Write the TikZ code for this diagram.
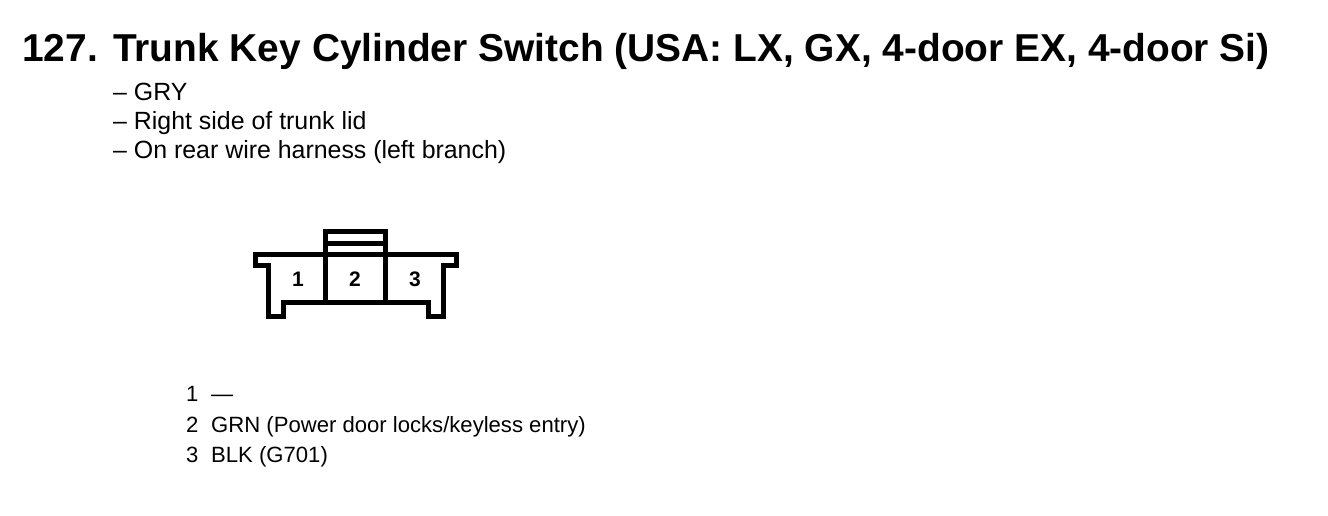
\documentclass[tikz,border=0pt]{standalone}
\usepackage{fontspec}
\setmainfont{Liberation Sans}
\tikzset{
 titletext/.style={anchor=base west,inner sep=0pt,font=\fontsize{38.9}{40}\selectfont\bfseries},
 bodytext/.style={anchor=base west,inner sep=0pt,font=\fontsize{24.9}{26}\selectfont},
 listtext/.style={anchor=base west,inner sep=0pt,font=\fontsize{22.1}{24}\selectfont},
 pintext/.style={anchor=base,inner sep=0pt,font=\fontsize{21}{22}\selectfont\bfseries},
 shell/.style={line width=5pt,miter limit=10,line join=miter}
}
\begin{document}
\begin{tikzpicture}[x=1pt,y=-1pt]
\useasboundingbox (0,0) rectangle (1328,516);
\node[titletext] (num) at (22,62) {127.};
\node[titletext] (ttl) at (113,62) {Trunk Key Cylinder Switch (USA: LX, GX, 4-door EX, 4-door Si)};
\node[bodytext] (a) at (113,101) {– GRY};
\node[bodytext] (b) at (113,130) {– Right side of trunk lid};
\node[bodytext] (c) at (113,159) {– On rear wire harness (left branch)};
\draw[shell] (255,254) -- (456,254) -- (456,265) -- (443.5,265) -- (443.5,316) -- (428,316) -- (428,302) -- (283,302) -- (283,316) -- (268,316) -- (268,265) -- (255,265) -- cycle;
\draw[shell] (325.5,254) -- (325.5,231) -- (385.5,231) -- (385.5,254);
\draw[shell] (325.5,243) -- (385.5,243);
\draw[shell] (325.5,254) -- (325.5,302);
\draw[shell] (385.5,254) -- (385.5,302);
\node[pintext] (p1) at (298,286) {1};
\node[pintext] (p2) at (355,286) {2};
\node[pintext] (p3) at (415,286) {3};
\node[listtext] (l1) at (186,401) {1};
\node[listtext] (l1b) at (211,401) {—};
\node[listtext] (l2) at (186,432) {2};
\node[listtext] (l2b) at (211,432) {GRN (Power door locks/keyless entry)};
\node[listtext] (l3) at (186,462) {3};
\node[listtext] (l3b) at (211,462) {BLK (G701)};
\end{tikzpicture}
\end{document}
